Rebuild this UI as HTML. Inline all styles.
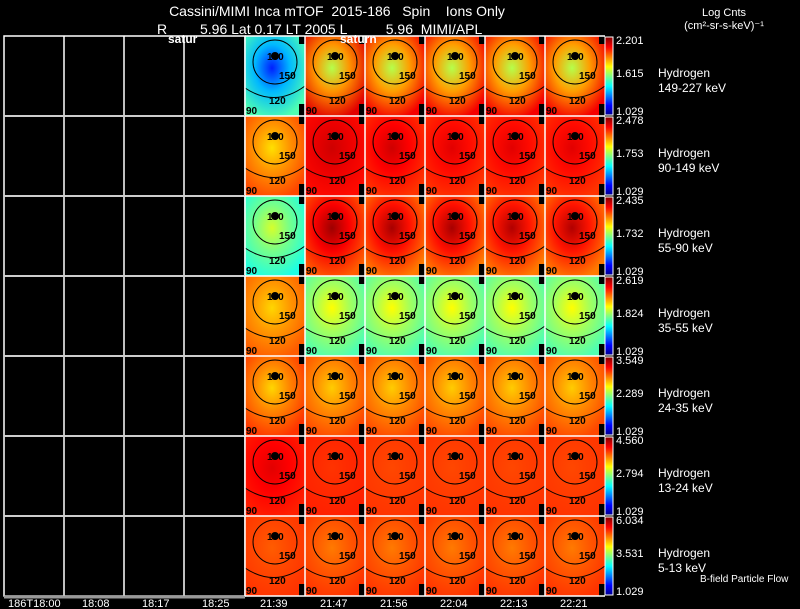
<!DOCTYPE html>
<html><head><meta charset="utf-8">
<style>
body{margin:0;background:#000;width:800px;height:609px;overflow:hidden;font-family:"Liberation Sans",sans-serif}
svg{display:block}
text{white-space:pre}
</style></head><body>
<svg id="c" width="800" height="609" xmlns="http://www.w3.org/2000/svg">
<defs>
<linearGradient id="jet" x1="0" y1="1" x2="0" y2="0">
<stop offset="0" stop-color="#00008f"/><stop offset="0.12" stop-color="#0000ff"/>
<stop offset="0.37" stop-color="#00ffff"/><stop offset="0.5" stop-color="#80ff80"/>
<stop offset="0.62" stop-color="#ffff00"/><stop offset="0.87" stop-color="#ff0000"/>
<stop offset="1" stop-color="#800000"/></linearGradient>
</defs>
<g id="g"></g>
<text x="337" y="16" fill="#fff" font-size="14" text-anchor="middle">Cassini/MIMI Inca mTOF  2015-186   Spin    Ions Only</text>
<text x="157" y="34" fill="#fff" font-size="14">R</text>
<text x="200" y="34" fill="#fff" font-size="14">5.96 Lat 0.17 LT 2005 L          5.96  MIMI/APL</text>
<text x="724" y="16" fill="#fff" font-size="11" text-anchor="middle">Log Cnts</text>
<text x="724" y="29" fill="#fff" font-size="11" text-anchor="middle">(cm²-sr-s-keV)⁻¹</text>
<text x="168" y="43" fill="#fff" font-size="12" font-weight="bold">satur</text>
<text x="340" y="43" fill="#fff" font-size="12" font-weight="bold">saturn</text>
<text x="700" y="582" fill="#fff" font-size="10">B-field Particle Flow</text>
</svg>
<script>
const rowLabels=["149-227 keV","90-149 keV","55-90 keV","35-55 keV","24-35 keV","13-24 keV","5-13 keV"];
const cbMax=["2.201","2.478","2.435","2.619","3.549","4.560","6.034"];
const cbMid=["1.615","1.753","1.732","1.824","2.289","2.794","3.531"];
const cbMin=["1.029","1.029","1.029","1.029","1.029","1.029","1.029"];
const timeLabels=["186T18:00","18:08","18:17","18:25","21:39","21:47","21:56","22:04","22:13","22:21"];
const centerVals=[[0.15,0.55,0.55,0.55,0.55,0.55],[0.65,0.92,0.92,0.9,0.9,0.9],[0.58,0.97,0.96,0.96,0.95,0.95],[0.66,0.62,0.62,0.62,0.62,0.62],[0.66,0.67,0.67,0.67,0.67,0.67],[0.9,0.82,0.8,0.8,0.8,0.8],[0.78,0.75,0.75,0.75,0.75,0.75]];
const edgeVals=[[0.45,0.9,0.88,0.88,0.88,0.88],[0.8,0.86,0.82,0.82,0.82,0.82],[0.4,0.78,0.75,0.75,0.75,0.75],[0.78,0.45,0.45,0.45,0.45,0.45],[0.82,0.8,0.8,0.8,0.8,0.8],[0.84,0.84,0.82,0.82,0.82,0.82],[0.82,0.82,0.82,0.82,0.82,0.82]];
const stops=[[0,[0,0,143]],[0.12,[0,0,255]],[0.37,[0,255,255]],[0.5,[128,255,128]],[0.62,[255,255,0]],[0.87,[255,0,0]],[1,[128,0,0]]];
function cmap(v){for(let i=1;i<stops.length;i++){if(v<=stops[i][0]){const a=stops[i-1],b=stops[i];const t=(v-a[0])/(b[0]-a[0]);const c=a[1].map((x,k)=>Math.round(x+(b[1][k]-x)*t));return `rgb(${c})`;}}return 'rgb(128,0,0)';}
const NS="http://www.w3.org/2000/svg",g=document.getElementById('g');
function el(t,a,p){const e=document.createElementNS(NS,t);for(const k in a)e.setAttribute(k,a[k]);(p||g).appendChild(e);return e;}
const top0=36,rowH=80,imgX=245,colW=60,lx=4;
const rowY=i=>top0+i*rowH;
const lp=el('rect',{x:lx,y:top0,width:241,height:rowH*7,fill:'#000',stroke:'#fff','stroke-width':1.5});

for(let k=1;k<4;k++){const l=el('line',{x1:lx+k*60,y1:top0,x2:lx+k*60,y2:top0+rowH*7,stroke:'#fff','stroke-width':1.5});}
el('line',{x1:lx,y1:top0+rowH*7+1,x2:245,y2:top0+rowH*7+1,stroke:'#999','stroke-width':3});
for(let r=0;r<7;r++){
  const y=rowY(r);
  if(r>0){const l=el('line',{x1:lx,y1:y,x2:245,y2:y,stroke:'#ccc','stroke-width':2});}
  for(let c=0;c<6;c++){
    const x=imgX+c*colW;
    const gid='rg'+r+'_'+c;
    const gr=el('radialGradient',{id:gid,cx:'0.45',cy:'0.4',r:'0.65'},document.querySelector('defs'));
    el('stop',{offset:'0','stop-color':cmap(centerVals[r][c])},gr);
    el('stop',{offset:'0.45','stop-color':cmap((centerVals[r][c]+edgeVals[r][c])/2)},gr);
    el('stop',{offset:'1','stop-color':cmap(edgeVals[r][c])},gr);
    const cell=el('rect',{x:x,y:y,width:colW,height:rowH,fill:`url(#${gid})`});
    
    el('rect',{x:x+colW-6,y:y+rowH-12,width:6,height:12,fill:'#000'});
    el('rect',{x:x+colW-6,y:y,width:6,height:8,fill:'#000'});
    el('circle',{cx:x+30,cy:y+26,r:22,fill:'none',stroke:'#000','stroke-width':1});
    el('path',{d:`M${x} ${y+52} Q${x+30} ${y+72} ${x+60} ${y+50}`,fill:'none',stroke:'#000','stroke-width':1});
    el('circle',{cx:x+30,cy:y+20,r:4,fill:'#000'});
    const lab=[["180",x+22,y+24],["150",x+34,y+43],["120",x+24,y+68],["90",x+1,y+78]];
    lab.forEach(L=>{const t=el('text',{x:L[1],y:L[2],'font-size':10,'font-weight':'bold',fill:'#000'});t.textContent=L[0];});
    el('line',{x1:x,y1:y,x2:x,y2:y+rowH,stroke:'#fff','stroke-width':1.5});
  }
  el('line',{x1:imgX,y1:y,x2:605,y2:y,stroke:'#fff','stroke-width':1.5});
  const cb=el('rect',{x:605,y:y+1,width:8,height:rowH-2,fill:'url(#jet)',stroke:'#fff','stroke-width':1});
  
  [[cbMax[r],y+8],[cbMid[r],y+41],[cbMin[r],y+79]].forEach(v=>{const t=el('text',{x:616,y:v[1],'font-size':11,fill:'#fff'});t.textContent=v[0];});
  const h=el('text',{x:658,y:y+41,'font-size':12,fill:'#fff'});h.textContent='Hydrogen';
  const e=el('text',{x:658,y:y+56,'font-size':12,fill:'#fff'});e.textContent=rowLabels[r];
}
el('line',{x1:imgX,y1:rowY(7),x2:605,y2:rowY(7),stroke:'#fff','stroke-width':1.5});
const tx=[8,82,142,202];
timeLabels.forEach((s,i)=>{const t=el('text',{x:i<4?tx[i]:imgX+(i-4)*colW+15,y:607,'font-size':11,fill:'#fff'});t.textContent=s;});
</script>
</body></html>
